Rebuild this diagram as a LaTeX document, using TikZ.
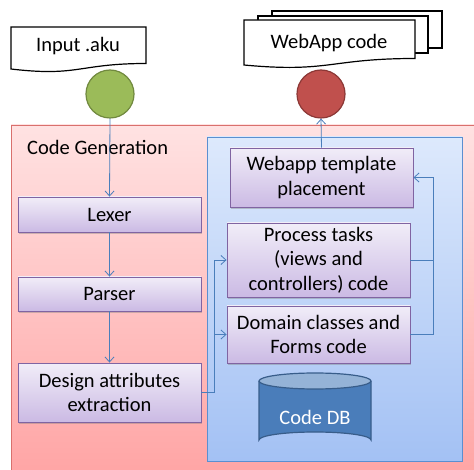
\documentclass[tikz,border=0pt]{standalone}
\usepackage{fontspec}
\setmainfont{Carlito}
\usetikzlibrary{arrows.meta,shadows,positioning}
\definecolor{conn}{HTML}{4A7EBB}
\definecolor{boxborder}{HTML}{8064A2}
\definecolor{boxtop}{HTML}{F1EDF8}
\definecolor{boxbot}{HTML}{CBBAE4}
\definecolor{pinktop}{HTML}{FFE2E2}
\definecolor{pinkbot}{HTML}{FFA2A2}
\definecolor{pinkborder}{HTML}{D9706D}
\definecolor{bluetop}{HTML}{DDE9FC}
\definecolor{bluebot}{HTML}{A3C1F4}
\definecolor{blueborder}{HTML}{5B8FD0}
\definecolor{greenfill}{HTML}{9BBB59}
\definecolor{greenborder}{HTML}{71893F}
\definecolor{redfill}{HTML}{C0504D}
\definecolor{redborder}{HTML}{8C3836}
\definecolor{dbfill}{HTML}{4A7DBA}
\definecolor{dbtop}{HTML}{95B3D7}
\definecolor{dbborder}{HTML}{385D8A}
\begin{document}
\begin{tikzpicture}[x=1pt,y=-1pt,
  every node/.style={font=\fontsize{20.5}{24.5}\selectfont},
  procbox/.style={draw=boxborder, line width=0.9pt, top color=boxtop, bottom color=boxbot,
    align=center, inner sep=0pt, minimum width=183pt,
    drop shadow={shadow xshift=1.2pt, shadow yshift=-1.8pt, opacity=0.4}},
  conline/.style={draw=conn, line width=0.8pt},
  conarrow/.style={conline, -{Straight Barb[length=5pt,width=9pt]}},
  docshape/.style={draw=black, line width=1.2pt, fill=white},
  dot/.style={circle, minimum size=48pt, inner sep=0pt, line width=1.2pt}
]
\useasboundingbox (0,0) rectangle (474,470);
\fill[white] (0,0) rectangle (474,470);

% outer container
\path[top color=pinktop, bottom color=pinkbot, draw=pinkborder, line width=0.8pt]
  (11,125) rectangle (490,490);
\node[anchor=west, inner sep=0pt] (cglabel) at (27,147) {Code Generation};

% inner container
\path[top color=bluetop, bottom color=bluebot, draw=blueborder, line width=0.8pt]
  (207,137) rectangle (462,461);

% input document
\draw[docshape] (11,27) -- (146,27) -- (146,63.5)
  .. controls (78.5,63.5) and (78.5,77) .. (11,69) -- cycle;
\node (input) at (78,46) {Input .aku};

% webapp multi-document
\draw[docshape] (272,11) rectangle (442,48);
\draw[docshape] (258,16) rectangle (428,53);
\draw[docshape] (244,20) -- (415,20) -- (415,58.5)
  .. controls (329.5,58.5) and (329.5,73) .. (244,65) -- cycle;
\node (webout) at (329,43) {WebApp code};

% circles
\node[dot, fill=greenfill, draw=greenborder] (green) at (110,94) {};
\node[dot, fill=redfill, draw=redborder] (red) at (321,94) {};

% left boxes
\node[procbox, minimum height=35pt] (lexer) at (109.5,214.5) {Lexer};
\node[procbox, minimum height=34pt] (parser) at (109.5,294) {Parser};
\node[procbox, minimum height=59pt] (design) at (109.5,392.5) {Design attributes\\extraction};

% right boxes
\node[procbox, minimum height=59pt] (webapp) at (321.5,177.5) {Webapp template\\placement};
\node[procbox, minimum height=74pt] (process) at (318.5,260) {Process tasks\\(views and\\controllers) code};
\node[procbox, minimum height=57pt] (domain) at (318.5,334.5) {Domain classes and\\Forms code};

% database cylinder
\fill[dbfill] (259,381) -- (259,440) arc[start angle=180, end angle=360, x radius=56, y radius=8]
  -- (371,381) -- cycle;
\draw[dbborder, line width=1.2pt] (259,381) -- (259,440) arc[start angle=180, end angle=360, x radius=56, y radius=8] -- (371,381);
\draw[dbborder, line width=1.2pt, fill=dbtop] (315,381) ellipse[x radius=56, y radius=8];
\node[text=white] (codedb) at (315,417) {Code DB};

% connectors
\draw[conarrow] (green.south) -- (lexer.north);
\draw[conarrow] (lexer.south) -- (parser.north);
\draw[conarrow] (parser.south) -- (design.north);
\coordinate (lj) at (214,392);
\draw[conline] (design.east) -- (design.east -| lj);
\draw[conarrow] (design.east -| lj) |- (process.west);
\draw[conarrow] (design.east -| lj) |- (domain.west);
\coordinate (rj) at (433,177.5);
\draw[conline] (process.east) -- (process.east -| rj);
\draw[conarrow] (domain.east) -| (rj) -- (webapp.east);
\draw[conarrow] (webapp.north) -- (red.south);
\end{tikzpicture}
\end{document}
